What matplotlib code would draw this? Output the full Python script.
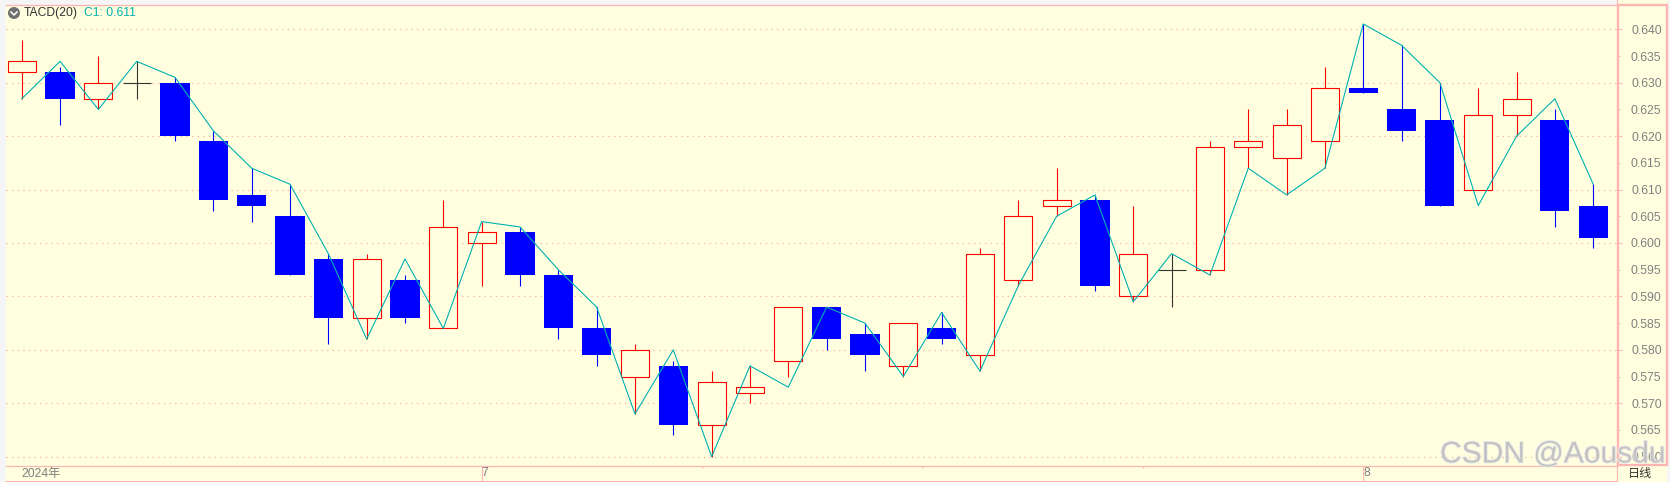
import matplotlib
matplotlib.use("Agg")
import numpy as np
import matplotlib.pyplot as plt
from matplotlib.patches import Rectangle, Circle
from matplotlib.lines import Line2D
import matplotlib.patheffects as pe

W, H = 1670, 482
plt.rcParams['font.family'] = ['Liberation Sans', 'Noto Sans CJK SC', 'DejaVu Sans']

opens = [.632, .632, .627, .630, .630, .619, .609, .605, .597, .586, .593,
         .584, .600, .602, .594, .584, .575, .577, .566, .572, .578,
         .588, .583, .577, .584, .579, .593, .607, .608, .590, .595,
         .595, .618, .616, .619, .629, .625, .623, .610, .624, .623, .607]
closes = [.634, .627, .630, .630, .620, .608, .607, .594, .586, .597, .586,
          .603, .602, .594, .584, .579, .580, .566, .574, .573, .588,
          .582, .579, .585, .582, .598, .605, .608, .592, .598, .595,
          .618, .619, .622, .629, .628, .621, .607, .624, .627, .606, .601]
highs = [.638, .633, .635, .634, .631, .621, .614, .611, .598, .598, .594,
         .608, .604, .603, .595, .588, .581, .578, .576, .577, .588,
         .588, .585, .585, .587, .599, .608, .614, .609, .607, .598,
         .619, .625, .625, .633, .641, .637, .630, .629, .632, .625, .611]
lows = [.627, .622, .625, .627, .619, .606, .604, .594, .581, .582, .585,
        .584, .592, .592, .582, .577, .568, .564, .560, .570, .575,
        .580, .576, .575, .581, .576, .592, .605, .591, .589, .588,
        .594, .614, .609, .614, .628, .619, .607, .610, .620, .603, .599]
tacd = [.627, .634, .625, .634, .631, .621, .614, .611, .598, .582, .597,
        .584, .604, .603, .595, .588, .568, .580, .560, .577, .573,
        .588, .585, .575, .587, .576, .592, .605, .609, .589, .598,
        .594, .614, .609, .614, .641, .637, .630, .607, .620, .627, .611]

grid_levels = [.640, .630, .620, .610, .600, .590, .580, .570, .560]
odd_levels = [.635, .625, .615, .605, .595, .585, .575, .565]
month_pos = [12, 35]
month_labels = ['7', '8']
small_ticks = [17.75, 23.5, 29.25]

PINK = '#FFB4B4'
BG = '#FFFFE0'
RED = '#FF0000'
BLUE = '#0000FF'
TEAL = '#00B0B0'
GREY = '#808080'


def box(x0, y0, x1, y1):
    # pixel box, y from the top, to figure fractions
    return [x0 / W, 1 - y1 / H, (x1 - x0) / W, (y1 - y0) / H]


def fx(x):
    return x / W


def fy(y):
    return 1 - y / H


fig = plt.figure(figsize=(W / 100, H / 100), dpi=100, facecolor='#F5F5F5')

ax = fig.add_axes(box(6, 4.5, 1617, 465.5), facecolor=BG)
ax.set_xlim((6 - 21.7) / 38.33, (1617 - 21.7) / 38.33)
ax.set_ylim(.640 - (465.5 - 29.3) / 5342, .640 + (29.3 - 4.5) / 5342)

x = np.arange(len(opens))
for i in x:
    o, c, h, l = opens[i], closes[i], highs[i], lows[i]
    if c == o:
        col = '#333333'
    elif c > o:
        col = RED
    else:
        col = BLUE
    ax.vlines(i, l, h, color=col, lw=0.8, zorder=2)
    if c == o:
        ax.hlines(o, i - 0.365, i + 0.365, color=col, lw=0.8, zorder=3)
    elif c > o:
        ax.bar(i, c - o, bottom=o, width=0.73, facecolor=BG, edgecolor=RED,
               linewidth=0.8, zorder=3)
    else:
        ax.bar(i, o - c, bottom=c, width=0.76, facecolor=BLUE, edgecolor=BLUE,
               linewidth=0, zorder=3)

ax.plot(x, tacd, color=TEAL, lw=0.8, zorder=4)

ax.hlines(grid_levels, -0.4, 41.9, color='#F5B0A0', lw=0.9,
          linestyles=(0, (1, 3.5)), zorder=1)

ax.set_yticks(grid_levels)
ax.set_yticks(odd_levels, minor=True)
ax.set_yticklabels(['%.3f' % v for v in grid_levels])
ax.set_yticklabels(['%.3f' % v for v in odd_levels], minor=True)
ax.yaxis.tick_right()
ax.tick_params(axis='y', which='major', length=3.6, width=0.8, color=PINK, pad=28.6,
               labelsize=8.7, labelcolor=GREY)
ax.tick_params(axis='y', which='minor', length=2, width=0.8, color=PINK, pad=30,
               labelsize=8.7, labelcolor=GREY)
for lb in ax.get_yticklabels(which='both'):
    lb.set_ha('right')
ax.set_xticks([])
for s in ['left']:
    ax.spines[s].set_visible(False)
for s in ['top', 'bottom', 'right']:
    ax.spines[s].set_color(PINK)
    ax.spines[s].set_linewidth(0.8)

# right price panel, drawn behind the axes
fig.add_artist(Rectangle((fx(1617), fy(482)), 50 / W, 482 / H, transform=fig.transFigure,
                         facecolor=BG, edgecolor='none', zorder=-5))
fig.add_artist(Rectangle((fx(1618), fy(465)), 48.5 / W, 460 / H, transform=fig.transFigure,
                         facecolor='none', edgecolor=PINK, linewidth=1.7, zorder=5))
fig.add_artist(Line2D([fx(1617), fx(1617)], [fy(0), fy(5)], color=PINK, lw=0.8))
fig.add_artist(Line2D([fx(6), fx(1617)], [fy(4.5), fy(4.5)], color=PINK, lw=0.8))

# date strip
axb = fig.add_axes(box(6, 465.5, 1617, 481), facecolor=BG)
axb.set_xlim(ax.get_xlim())
axb.set_ylim(0, 1)
axb.set_yticks([])
axb.set_xticks(month_pos)
axb.set_xticklabels([])
axb.set_xticks(small_ticks, minor=True)
axb.tick_params(axis='x', which='both', length=0)
for s in ['left', 'right', 'top', 'bottom']:
    axb.spines[s].set_color(PINK)
    axb.spines[s].set_linewidth(0.8)
axb.spines['left'].set_visible(False)
axb.vlines(month_pos, 0, 1, color=PINK, lw=0.8)
axb.vlines(small_ticks, 0.85, 1, color=PINK, lw=0.8)
for p, t in zip(month_pos, month_labels):
    axb.annotate(t, (p, 0.5), xytext=(0, 0), textcoords='offset points', color=GREY,
                 fontsize=8.7, va='center', ha='left')
fig.text(fx(21), fy(473.5), '2024年', color=GREY, fontsize=8.7, va='center', ha='left')
fig.text(fx(1640.5), fy(473.5), '日线', color='#333333', fontsize=8.7, va='center', ha='center')

# header
fig.add_artist(Circle((14 / 100, (H - 13) / 100), 6 / 100,
                      transform=fig.dpi_scale_trans, facecolor='#707070', edgecolor='none', zorder=6))
fig.add_artist(Line2D([fx(11), fx(14), fx(17)], [fy(12), fy(15), fy(12)], color='white', lw=1.1, zorder=7))
fig.text(fx(24), fy(13), 'TACD(20)', color='#333333', fontsize=8.7, va='center', ha='left', zorder=7)
fig.text(fx(84), fy(13), 'C1: 0.611', color=TEAL, fontsize=8.7, va='center', ha='left', zorder=7)

# watermark
fig.text(fx(1440), fy(462.5), 'CSDN @Aousdu', color='#BEBEBE', alpha=0.85, fontsize=21.6,
         va='baseline', ha='left', zorder=20,
         path_effects=[pe.withStroke(linewidth=1.4, foreground='#ECECEC')])

fig.savefig('out.png', dpi=100, facecolor=fig.get_facecolor())
